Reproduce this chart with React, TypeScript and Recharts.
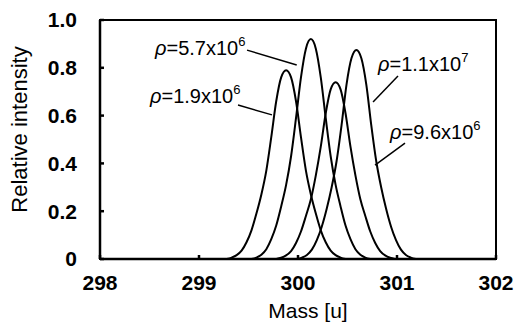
import React from "react";
import { LineChart, Line, XAxis, YAxis, ReferenceArea, ReferenceLine, ReferenceDot } from "recharts";

// Peak profiles (mass in u, relative intensity)
const massA = [299.28, 299.33, 299.38, 299.43, 299.48, 299.53, 299.58, 299.63, 299.68, 299.73, 299.78, 299.83, 299.88, 299.93, 299.98, 300.03, 300.08, 300.13, 300.18, 300.23, 300.28, 300.33, 300.38, 300.43, 300.48];
const intensityA = [0, 0.006, 0.016, 0.035, 0.07, 0.12, 0.19, 0.27, 0.37, 0.51, 0.66, 0.76, 0.79, 0.76, 0.66, 0.51, 0.37, 0.27, 0.19, 0.12, 0.07, 0.035, 0.016, 0.006, 0];

const massB = [299.53, 299.58, 299.63, 299.68, 299.73, 299.78, 299.83, 299.88, 299.93, 299.98, 300.03, 300.08, 300.13, 300.18, 300.23, 300.28, 300.33, 300.38, 300.43, 300.48, 300.53, 300.58, 300.63, 300.68, 300.73];
const intensityB = [0, 0.006, 0.018, 0.041, 0.083, 0.14, 0.22, 0.31, 0.43, 0.59, 0.76, 0.88, 0.92, 0.88, 0.76, 0.59, 0.43, 0.31, 0.22, 0.14, 0.083, 0.041, 0.018, 0.006, 0];

const massC = [299.78, 299.83, 299.88, 299.93, 299.98, 300.03, 300.08, 300.13, 300.18, 300.23, 300.28, 300.33, 300.38, 300.43, 300.48, 300.53, 300.58, 300.63, 300.68, 300.73, 300.78, 300.83, 300.88, 300.93, 300.98];
const intensityC = [0, 0.005, 0.015, 0.033, 0.067, 0.115, 0.18, 0.25, 0.35, 0.47, 0.61, 0.71, 0.74, 0.71, 0.61, 0.47, 0.35, 0.25, 0.18, 0.115, 0.067, 0.033, 0.015, 0.005, 0];

const massD = [299.99, 300.04, 300.09, 300.14, 300.19, 300.24, 300.29, 300.34, 300.39, 300.44, 300.49, 300.54, 300.59, 300.64, 300.69, 300.74, 300.79, 300.84, 300.89, 300.94, 300.99, 301.04, 301.09, 301.14, 301.19];
const intensityD = [0, 0.006, 0.017, 0.039, 0.079, 0.135, 0.21, 0.3, 0.41, 0.56, 0.73, 0.84, 0.875, 0.84, 0.73, 0.56, 0.41, 0.3, 0.21, 0.135, 0.079, 0.039, 0.017, 0.006, 0];

const xTicks = [298, 299, 300, 301, 302];
const yTicks = [0, 0.2, 0.4, 0.6, 0.8, 1.0];

// annotation: mantissa, exponent, text anchor, leader line
const labelMantissa = ["5.7", "1.9", "1.1", "9.6"];
const labelExponent = ["6", "6", "7", "6"];
const labelMass = [298.556, 298.505, 300.808, 300.93];
const labelIntensity = [0.854, 0.653, 0.787, 0.502];
const leaderFrom = [[299.485, 0.874], [299.394, 0.644], [301.01, 0.766], [301.081, 0.485]];
const leaderTo = [[299.987, 0.812], [299.737, 0.603], [300.758, 0.657], [300.778, 0.393]];

const FONT = '"Liberation Sans", Arial, sans-serif';

const series = [
  massA.map((m, i) => ({ m, v: intensityA[i] })),
  massB.map((m, i) => ({ m, v: intensityB[i] })),
  massC.map((m, i) => ({ m, v: intensityC[i] })),
  massD.map((m, i) => ({ m, v: intensityD[i] })),
];

const AnnotationText = ({ cx, cy, mantissa, exponent }: any) => (
  <text x={cx} y={cy} fontFamily={FONT} fontSize={20} fill="#000">
    <tspan fontStyle="italic">ρ</tspan>
    <tspan>{`=${mantissa}x10`}</tspan>
    <tspan fontSize={13} dy={-9}>{exponent}</tspan>
  </text>
);

const YTitle = ({ viewBox }: any) => {
  const cx = viewBox.x + 19;
  const cy = viewBox.y + viewBox.height / 2 - 10;
  return (
    <text
      x={cx}
      y={cy}
      transform={`rotate(-90, ${cx}, ${cy})`}
      textAnchor="middle"
      dominantBaseline="central"
      fontFamily={FONT}
      fontSize={22}
      fill="#000"
    >
      Relative intensity
    </text>
  );
};

export default function App() {
  return (
    <div style={{ position: "fixed", left: 0, top: 0, background: "#fff" }}>
      <LineChart width={516} height={330} margin={{ top: 20, right: 20, bottom: 0, left: 0 }}>
        <XAxis
          type="number"
          dataKey="m"
          domain={[298, 302]}
          ticks={xTicks}
          allowDuplicatedCategory={false}
          height={71}
          stroke="#000"
          strokeWidth={2.5}
          tickSize={-4}
          tickMargin={20}
          tick={{ fill: "#000", fontSize: 21, fontWeight: "bold", fontFamily: FONT }}
          label={{
            value: "Mass [u]",
            position: "insideBottom",
            offset: 12,
            dx: 10,
            fill: "#000",
            fontSize: 21,
            fontFamily: FONT,
          }}
        />
        <YAxis
          type="number"
          domain={[0, 1]}
          ticks={yTicks}
          width={100}
          stroke="#000"
          strokeWidth={2.5}
          tickSize={-4}
          tickMargin={27}
          tickFormatter={(v: number) => (v === 0 ? "0" : v.toFixed(1))}
          tick={{ fill: "#000", fontSize: 21, fontWeight: "bold", fontFamily: FONT }}
          label={<YTitle />}
        />
        <ReferenceArea x1={298} x2={302} y1={0} y2={1} fill="none" stroke="#000" strokeWidth={2} />
        {series.map((data, i) => (
          <Line
            key={i}
            data={data}
            dataKey="v"
            type="monotone"
            stroke="#000"
            strokeWidth={2}
            dot={false}
            isAnimationActive={false}
          />
        ))}
        {labelMantissa.map((mant, i) => (
          <ReferenceLine
            key={`l${i}`}
            segment={[
              { x: leaderFrom[i][0], y: leaderFrom[i][1] },
              { x: leaderTo[i][0], y: leaderTo[i][1] },
            ]}
            stroke="#000"
            strokeWidth={1.5}
          />
        ))}
        {labelMantissa.map((mant, i) => (
          <ReferenceDot
            key={`t${i}`}
            x={labelMass[i]}
            y={labelIntensity[i]}
            r={0}
            shape={(p: any) => (
              <AnnotationText cx={p.cx} cy={p.cy} mantissa={mant} exponent={labelExponent[i]} />
            )}
          />
        ))}
      </LineChart>
    </div>
  );
}
